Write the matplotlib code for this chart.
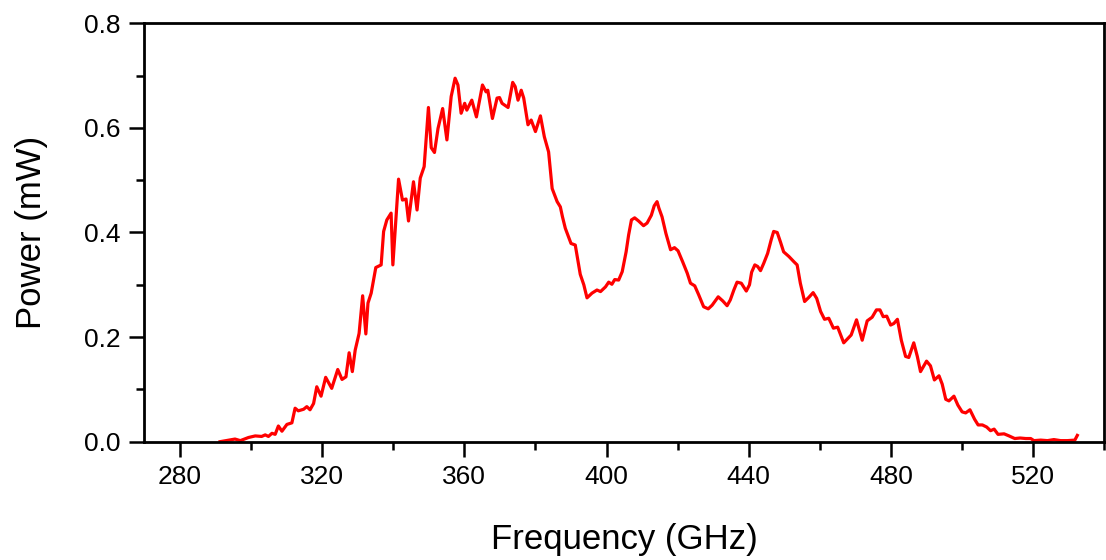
#---------------------------------Imports start--------------------------------
import matplotlib
matplotlib.use("Agg")
from matplotlib import pyplot as plt
from matplotlib.ticker import MultipleLocator, FormatStrFormatter
#---------------------------------Imports End--------------------------------

#---------------------------------Data start--------------------------------
freq = [291.3, 295.5, 297.0, 299.3, 301.2, 303.0, 304.0, 304.9, 305.9, 306.8,
        307.7, 308.7, 310.1, 311.5, 312.4, 313.3, 314.8, 315.7, 316.6, 317.6,
        318.5, 319.7, 321.0, 322.7, 324.4, 325.6, 326.7, 327.6, 328.5, 329.3,
        330.4, 331.4, 332.3, 332.9, 333.8, 335.1, 336.6, 337.3, 338.2, 339.4,
        339.9, 341.5, 342.6, 343.6, 344.3, 345.7, 346.7, 347.6, 348.7, 349.9,
        350.7, 351.6, 352.6, 353.9, 355.1, 356.3, 357.4, 358.2, 359.1, 360.1,
        360.7, 362.1, 363.4, 365.1, 366.1, 366.6, 367.9, 369.2, 369.9, 370.6,
        372.3, 373.6, 374.3, 375.1, 376.0, 376.7, 377.9, 378.8, 380.0, 381.4,
        382.5, 383.7, 384.7, 386.1, 387.0, 387.6, 388.4, 390.0, 391.2, 392.6,
        393.6, 394.5, 395.9, 397.3, 398.3, 399.7, 400.6, 401.5, 402.3, 403.4,
        404.4, 405.5, 406.2, 407.0, 407.9, 409.0, 410.4, 411.4, 412.6, 413.4,
        414.2, 414.7, 415.6, 416.7, 418.0, 419.1, 420.1, 421.4, 422.7, 423.6,
        424.8, 425.9, 427.3, 428.6, 429.7, 431.4, 432.7, 433.9, 434.8, 435.8,
        436.7, 437.9, 439.3, 440.2, 440.8, 441.7, 442.5, 443.3, 444.2, 445.3,
        446.3, 447.0, 448.0, 448.9, 449.8, 451.3, 452.7, 453.6, 454.5, 455.7,
        456.9, 458.1, 459.1, 460.2, 461.3, 462.5, 463.8, 465.0, 466.7, 468.8,
        470.3, 471.9, 473.3, 474.7, 475.9, 476.9, 477.8, 478.8, 479.9, 480.8,
        481.8, 482.9, 484.1, 485.0, 486.4, 487.4, 488.3, 490.0, 491.1, 492.2,
        493.5, 494.4, 495.4, 496.3, 497.7, 498.8, 500.0, 501.0, 502.2, 503.5,
        504.5, 505.7, 506.9, 508.0, 509.0, 510.1, 511.8, 513.2, 514.8, 516.3,
        517.9, 519.3, 520.2, 522.1, 524.0, 525.8, 527.7, 529.6, 531.7, 532.4]

power = [0.000, 0.005, 0.002, 0.008, 0.011, 0.010, 0.013, 0.010, 0.016, 0.014,
         0.030, 0.020, 0.033, 0.036, 0.064, 0.059, 0.062, 0.067, 0.061, 0.073,
         0.105, 0.087, 0.123, 0.102, 0.138, 0.119, 0.124, 0.170, 0.134, 0.175,
         0.207, 0.279, 0.206, 0.265, 0.284, 0.333, 0.338, 0.402, 0.424, 0.437,
         0.338, 0.502, 0.462, 0.464, 0.422, 0.497, 0.443, 0.504, 0.526, 0.639,
         0.562, 0.553, 0.599, 0.637, 0.577, 0.660, 0.695, 0.682, 0.628, 0.647,
         0.634, 0.653, 0.621, 0.682, 0.669, 0.672, 0.618, 0.657, 0.658, 0.647,
         0.639, 0.687, 0.679, 0.653, 0.672, 0.657, 0.606, 0.615, 0.593, 0.623,
         0.583, 0.554, 0.484, 0.459, 0.449, 0.430, 0.408, 0.379, 0.376, 0.320,
         0.300, 0.275, 0.284, 0.290, 0.287, 0.296, 0.305, 0.301, 0.310, 0.309,
         0.325, 0.363, 0.395, 0.424, 0.428, 0.422, 0.413, 0.418, 0.433, 0.451,
         0.459, 0.447, 0.430, 0.398, 0.367, 0.371, 0.365, 0.344, 0.322, 0.303,
         0.298, 0.281, 0.258, 0.254, 0.261, 0.277, 0.269, 0.260, 0.271, 0.290,
         0.305, 0.303, 0.288, 0.300, 0.324, 0.338, 0.335, 0.327, 0.341, 0.360,
         0.386, 0.402, 0.400, 0.382, 0.363, 0.354, 0.344, 0.338, 0.303, 0.268,
         0.276, 0.285, 0.274, 0.249, 0.234, 0.236, 0.217, 0.219, 0.189, 0.204,
         0.233, 0.194, 0.231, 0.238, 0.252, 0.252, 0.239, 0.240, 0.223, 0.226,
         0.234, 0.194, 0.163, 0.161, 0.189, 0.163, 0.134, 0.154, 0.145, 0.118,
         0.126, 0.110, 0.081, 0.078, 0.087, 0.070, 0.057, 0.055, 0.061, 0.043,
         0.032, 0.032, 0.028, 0.021, 0.024, 0.014, 0.015, 0.011, 0.006, 0.007,
         0.006, 0.006, 0.002, 0.003, 0.002, 0.004, 0.002, 0.002, 0.003, 0.012]
#---------------------------------Data End--------------------------------

#---------------------------------Plot start--------------------------------
plt.rcParams['font.family'] = ['Liberation Sans', 'DejaVu Sans']

fig = plt.figure(figsize=(11.06, 5.6), dpi=100)
ax = fig.add_axes([0.1305, 0.2113, 0.868, 0.7471])

ax.plot(freq, power, color="red", linewidth=2.3)

ax.set_xlim(270, 540)
ax.set_ylim(0, 0.8)
ax.xaxis.set_major_locator(MultipleLocator(40))
ax.xaxis.set_minor_locator(MultipleLocator(20))
ax.yaxis.set_major_locator(MultipleLocator(0.2))
ax.yaxis.set_minor_locator(MultipleLocator(0.1))
ax.yaxis.set_major_formatter(FormatStrFormatter('%.1f'))

for s in ax.spines.values():
	s.set_linewidth(2.0)
ax.tick_params(which='major', direction='out', length=11, width=1.8, labelsize=19, pad=6)
ax.tick_params(which='minor', direction='out', length=6, width=1.8)
ax.tick_params(top=False, right=False, which='both')

ax.set_xlabel("Frequency (GHz)", fontsize=25, labelpad=24)
ax.set_ylabel("Power (mW)", fontsize=25, labelpad=26)

fig.savefig("out.png", dpi=100)
#---------------------------------Plot End--------------------------------
